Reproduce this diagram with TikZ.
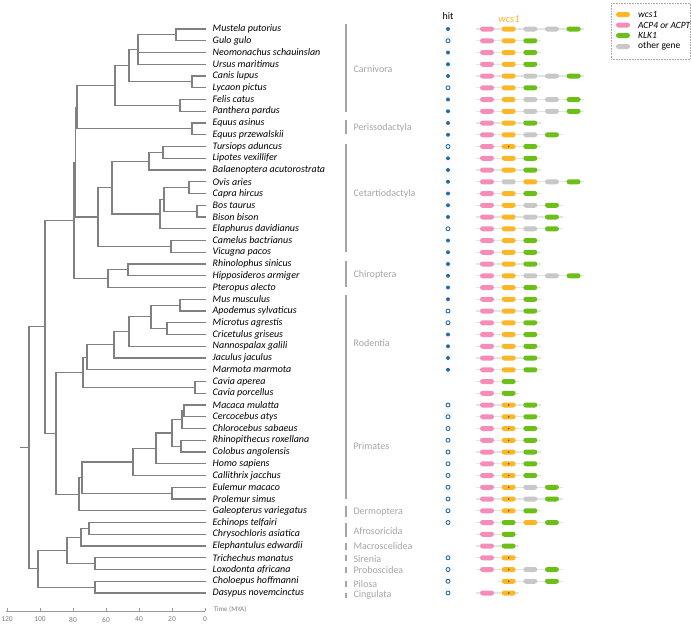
\documentclass[tikz,border=0pt]{standalone}
\usepackage{fontspec}
\setmainfont{Carlito}
\definecolor{treegray}{RGB}{128,128,128}
\definecolor{cladegray}{RGB}{165,165,165}
\definecolor{hitblue}{RGB}{30,108,178}
\definecolor{genepink}{RGB}{245,140,186}
\definecolor{geneorange}{RGB}{252,182,38}
\definecolor{genegreen}{RGB}{108,190,24}
\definecolor{genegray}{RGB}{200,200,200}
\definecolor{linkgray}{RGB}{224,230,230}
\usetikzlibrary{calc,backgrounds}

\tikzset{
  branch/.style={treegray,line width=1.2pt},
  species/.style={anchor=west,inner xsep=6.5pt,inner ysep=0pt,font=\fontsize{10}{10}\selectfont\itshape},
  cladebar/.style={cladegray,line width=1.6pt},
  cladename/.style={anchor=west,text=cladegray,font=\fontsize{10}{10}\selectfont},
  gene/.style={rounded corners=2.5pt,minimum width=14pt,minimum height=5pt,inner sep=0pt},
  genep/.style={gene,fill=genepink},
  geneo/.style={gene,fill=geneorange},
  geneg/.style={gene,fill=genegreen},
  genex/.style={gene,fill=genegray},
  genes/.style={gene,fill=geneorange,
    path picture={\fill[black!65] (path picture bounding box.center) circle (0.9pt);}},
  backbone/.style={linkgray,line width=1.4pt},
  hitf/.style={circle,fill=hitblue,minimum size=4pt,inner sep=0pt},
  hito/.style={circle,draw=hitblue,fill=white,line width=0.9pt,minimum size=4pt,inner sep=0pt},
  legtext/.style={anchor=west,inner sep=0pt,font=\fontsize{9.5}{10}\selectfont}
}

% clade: name, x, upper child, lower child
\newcommand\clade[4]{%
  \path let \p1=(#3), \p2=(#4) in coordinate (#1) at (#2,{0.5*(\y1+\y2)});
  \draw[branch] (#3) -| (#1) |- (#4);
}
% gene row: row, first slot, last slot, slot/type list
\newcommand\generow[4]{%
  \foreach \slot/\gc in {#4}{
    \node[gene\gc] (g#1-\slot) at ({487+21.65*(\slot-1)},{-(29+11.75*#1)}) {};
  }
  \begin{scope}[on background layer]
    \draw[backbone] ([xshift=-3.5pt]g#1-#2.west) -- ([xshift=3.5pt]g#1-#3.east);
  \end{scope}
}

\begin{document}
\begin{tikzpicture}[x=1pt,y=1pt]
  \useasboundingbox (0,0) rectangle (691,-625);

  % Species names
  \foreach \name [count=\i from 0] in {Mustela putorius, Gulo gulo, Neomonachus schauinslan,
      Ursus maritimus, Canis lupus, Lycaon pictus, Felis catus, Panthera pardus,
      Equus asinus, Equus przewalskii, Tursiops aduncus, Lipotes vexillifer,
      Balaenoptera acutorostrata, Ovis aries, Capra hircus, Bos taurus, Bison bison,
      Elaphurus davidianus, Camelus bactrianus, Vicugna pacos, Rhinolophus sinicus,
      Hipposideros armiger, Pteropus alecto, Mus musculus, Apodemus sylvaticus,
      Microtus agrestis, Cricetulus griseus, Nannospalax galili, Jaculus jaculus,
      Marmota marmota, Cavia aperea, Cavia porcellus, Macaca mulatta, Cercocebus atys,
      Chlorocebus sabaeus, Rhinopithecus roxellana, Colobus angolensis, Homo sapiens,
      Callithrix jacchus, Eulemur macaco, Prolemur simus, Galeopterus variegatus,
      Echinops telfairi, Chrysochloris asiatica, Elephantulus edwardii,
      Trichechus manatus, Loxodonta africana, Choloepus hoffmanni, Dasypus novemcinctus}
    \node[species] (s\i) at (206,{-(29+11.75*\i)}) {\name};

  % Tree: Laurasiatheria
  \clade{mg}{176}{s0}{s1}
  \clade{mustel}{138}{mg}{s3}
  \draw[branch] (mustel |- s2) -- (s2);
  \clade{canid}{192}{s4}{s5}
  \clade{caniform}{129}{mustel}{canid}
  \clade{felid}{180}{s6}{s7}
  \clade{carniv}{115}{caniform}{felid}
  \clade{equus}{192}{s8}{s9}
  \clade{ferung}{77}{carniv}{equus}
  \clade{tl}{163}{s10}{s11}
  \clade{ceta}{149}{tl}{s12}
  \clade{oc}{189}{s13}{s14}
  \clade{bb}{197}{s15}{s16}
  \clade{bov}{164}{oc}{bb}
  \clade{rumin}{160}{bov}{s17}
  \clade{cetrum}{112}{ceta}{rumin}
  \clade{camel}{171}{s18}{s19}
  \clade{cetart}{98}{cetrum}{camel}
  \clade{scrot}{75.5}{ferung}{cetart}
  \clade{rh}{128}{s20}{s21}
  \clade{chiro}{108}{rh}{s22}
  \clade{laura}{74}{scrot}{chiro}
  % Euarchontoglires
  \clade{ma}{180}{s23}{s24}
  \clade{mc}{167}{s25}{s26}
  \clade{muroid}{151}{ma}{mc}
  \clade{nan}{129}{muroid}{s27}
  \clade{jac}{114}{nan}{s28}
  \clade{mar}{87}{jac}{s29}
  \clade{cavia}{195}{s30}{s31}
  \clade{roden}{83}{mar}{cavia}
  \clade{mcc}{184}{s32}{s33}
  \clade{cercin}{182}{mcc}{s34}
  \clade{colob}{181}{s35}{s36}
  \clade{owm}{172}{cercin}{colob}
  \clade{catar}{156}{owm}{s37}
  \clade{anthro}{133}{catar}{s38}
  \clade{lemur}{172}{s39}{s40}
  \clade{prim}{82}{anthro}{lemur}
  \clade{primgal}{79}{prim}{s41}
  \clade{euarch}{56}{roden}{primgal}
  \clade{boreo}{45}{laura}{euarch}
  % Atlantogenata
  \clade{ec}{89}{s42}{s43}
  \clade{afroins}{81}{ec}{s44}
  \clade{tlx}{95}{s45}{s46}
  \clade{afro}{67}{afroins}{tlx}
  \clade{xen}{95}{s47}{s48}
  \clade{atlanto}{38}{afro}{xen}
  \clade{root}{29}{boreo}{atlanto}
  \coordinate (rootstub) at ([xshift=-9pt]root);
  \draw[branch] (rootstub) -- (root);

  % Time axis
  \draw[treegray!80,line width=0.8pt] (6,-611) -- (205,-611);
  \foreach \t in {0,20,...,120}{
    \draw[treegray!80,line width=0.8pt] ({205-1.65*\t},-611) -- ++(0,3.5);
    \node[text=treegray,font=\fontsize{7.5}{8}\selectfont] (tick\t) at ({205-1.65*\t},-619.5) {\t};
  }
  \node[anchor=west,text=treegray,font=\fontsize{7}{8}\selectfont] (timelab) at (210,-609) {Time (MYA)};

  % Orders
  \draw[cladebar] (346,-24) -- (346,-112);
  \node[cladename] (carn) at (350,-69) {Carnivora};
  \draw[cladebar] (346,-120) -- (346,-134);
  \node[cladename] (peri) at (350,-128) {Perissodactyla};
  \draw[cladebar] (346,-144) -- (346,-252);
  \node[cladename] (ceta) at (350,-194) {Cetartiodactyla};
  \draw[cladebar] (346,-261) -- (346,-287);
  \node[cladename] (chir) at (350,-275) {Chiroptera};
  \draw[cladebar] (346,-295) -- (346,-398);
  \node[cladename] (rode) at (350,-343) {Rodentia};
  \draw[cladebar] (346,-398) -- (346,-499);
  \node[cladename] (prim) at (350,-446) {Primates};
  \draw[cladebar] (346,-506) -- (346,-517);
  \node[cladename] (derm) at (350,-512) {Dermoptera};
  \draw[cladebar] (346,-523) -- (346,-537);
  \node[cladename] (afrs) at (350,-531) {Afrosoricida};
  \draw[cladebar] (346,-543) -- (346,-550);
  \node[cladename] (macr) at (350,-546) {Macroscelidea};
  \draw[cladebar] (346,-555) -- (346,-561);
  \node[cladename] (sire) at (350,-559) {Sirenia};
  \draw[cladebar] (346,-567) -- (346,-573);
  \node[cladename] (prob) at (350,-570) {Proboscidea};
  \draw[cladebar] (346,-581) -- (346,-587);
  \node[cladename] (pilo) at (350,-584) {Pilosa};
  \draw[cladebar] (346,-593) -- (346,-598);
  \node[cladename] (cing) at (350,-595) {Cingulata};

  % Hit column
  \node[font=\fontsize{10}{10}\selectfont] (hithead) at (448,-16) {hit};
  \def\nohit{n}
  \foreach \h [count=\i from 0] in {f,o,f,f,f,o,f,f,f,f,o,f,f,f,f,f,f,o,f,f,f,f,f,f,o,
      o,f,f,f,f,n,n,o,o,o,o,o,o,o,o,o,o,o,n,n,o,o,o,o}{
    \ifx\h\nohit\else
      \node[hit\h] (h\i) at (448,{-(29+11.75*\i)}) {};
    \fi
  }

  % Gene neighbourhoods
  \node[text=geneorange,font=\fontsize{10.5}{11}\selectfont\itshape] (wcshead) at (509,-19) {wcs1};
  \generow{0}{1}{5}{1/p,2/o,3/x,4/x,5/g}
  \generow{1}{1}{3}{1/p,2/o,3/g}
  \generow{2}{1}{3}{1/p,2/o,3/g}
  \generow{3}{1}{3}{1/p,2/o,3/g}
  \generow{4}{1}{5}{1/p,2/o,3/x,4/x,5/g}
  \generow{5}{1}{3}{1/p,2/o,3/g}
  \generow{6}{1}{5}{1/p,2/o,3/x,4/x,5/g}
  \generow{7}{1}{5}{1/p,2/o,3/x,4/x,5/g}
  \generow{8}{1}{3}{1/p,2/o,3/g}
  \generow{9}{1}{4}{1/p,2/o,3/x,4/g}
  \generow{10}{1}{3}{1/p,2/s,3/g}
  \generow{11}{1}{3}{1/p,2/o,3/g}
  \generow{12}{1}{3}{1/p,2/o,3/g}
  \generow{13}{1}{5}{1/p,2/x,3/o,4/x,5/g}
  \generow{14}{1}{3}{1/p,2/o,3/g}
  \generow{15}{1}{4}{1/p,2/o,3/x,4/g}
  \generow{16}{1}{4}{1/p,2/o,3/x,4/g}
  \generow{17}{1}{4}{1/p,2/o,3/x,4/g}
  \generow{18}{1}{3}{1/p,2/o,3/g}
  \generow{19}{1}{3}{1/p,2/o,3/g}
  \generow{20}{1}{3}{1/p,2/o,3/g}
  \generow{21}{1}{5}{1/p,2/o,3/x,4/x,5/g}
  \generow{22}{1}{3}{1/p,2/o,3/g}
  \generow{23}{1}{3}{1/p,2/o,3/g}
  \generow{24}{1}{3}{1/p,2/o,3/g}
  \generow{25}{1}{3}{1/p,2/o,3/g}
  \generow{26}{1}{3}{1/p,2/o,3/g}
  \generow{27}{1}{3}{1/p,2/o,3/g}
  \generow{28}{1}{3}{1/p,2/o,3/g}
  \generow{29}{1}{3}{1/p,2/o,3/g}
  \generow{30}{1}{2}{1/p,2/g}
  \generow{31}{1}{2}{1/p,2/g}
  \generow{32}{1}{3}{1/p,2/s,3/g}
  \generow{33}{1}{3}{1/p,2/s,3/g}
  \generow{34}{1}{3}{1/p,2/s,3/g}
  \generow{35}{1}{3}{1/p,2/s,3/g}
  \generow{36}{1}{3}{1/p,2/s,3/g}
  \generow{37}{1}{3}{1/p,2/s,3/g}
  \generow{38}{1}{3}{1/p,2/s,3/g}
  \generow{39}{1}{4}{1/p,2/s,3/x,4/g}
  \generow{40}{1}{4}{1/p,2/s,3/x,4/g}
  \generow{41}{1}{3}{1/p,2/s,3/g}
  \generow{42}{1}{4}{1/p,2/g,3/o,4/g}
  \generow{43}{1}{2}{1/p,2/g}
  \generow{44}{1}{2}{1/p,2/g}
  \generow{45}{1}{2}{1/p,2/s}
  \generow{46}{1}{4}{1/p,2/s,3/x,4/g}
  \generow{47}{2}{4}{2/s,3/x,4/g}
  \generow{48}{1}{2}{1/p,2/s}

  % Legend
  \draw[gray!70,densely dotted,line width=0.6pt] (611,-3) rectangle (690.5,-59);
  \node[geneo] (lego) at (623,-14.5) {};
  \node[legtext] (lto) at (638,-14.5) {\itshape wcs1};
  \node[genep] (legp) at (623,-25) {};
  \node[legtext] (ltp) at (638,-25) {\itshape ACP4 or ACPT};
  \node[geneg] (legg) at (623,-35.5) {};
  \node[legtext] (ltg) at (638,-35.5) {\itshape KLK1};
  \node[genex] (legx) at (623,-46.5) {};
  \node[legtext] (ltx) at (638,-46.5) {other gene};
\end{tikzpicture}
\end{document}
